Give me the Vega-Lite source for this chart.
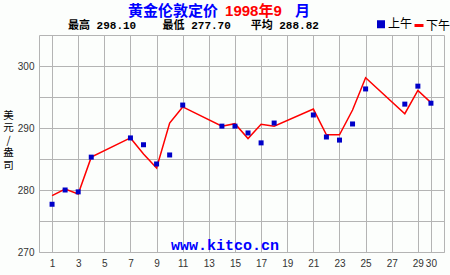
{
  "$schema": "https://vega.github.io/schema/vega-lite/v6.json",
  "width": 405,
  "height": 217,
  "autosize": "none",
  "padding": {"left": 39, "top": 35, "right": 6, "bottom": 23},
  "background": "#FCFEFC",
  "config": {
    "view": {"stroke": "#B4B4B4", "strokeWidth": 1},
    "axis": {"gridColor": "#B4B4B4", "gridWidth": 1, "gridOpacity": 1, "domain": false, "ticks": false, "labelFont": "Liberation Sans", "labelFontSize": 10, "labelColor": "#333333"},
    "axisX": {"labelFlush": false, "labelBound": false, "labelOverlap": false, "labelPadding": 6},
    "axisY": {"labelOverlap": false, "labelPadding": 5}
  },
  "data": {
    "values": [
      {"day": 1, "session": "上午", "price": 277.7},
      {"day": 2, "session": "上午", "price": 280.0},
      {"day": 3, "session": "上午", "price": 279.7},
      {"day": 4, "session": "上午", "price": 285.3},
      {"day": 7, "session": "上午", "price": 288.4},
      {"day": 8, "session": "上午", "price": 287.3},
      {"day": 9, "session": "上午", "price": 284.2},
      {"day": 10, "session": "上午", "price": 285.65},
      {"day": 11, "session": "上午", "price": 293.7},
      {"day": 14, "session": "上午", "price": 290.3},
      {"day": 15, "session": "上午", "price": 290.3},
      {"day": 16, "session": "上午", "price": 289.2},
      {"day": 17, "session": "上午", "price": 287.6},
      {"day": 18, "session": "上午", "price": 290.8},
      {"day": 21, "session": "上午", "price": 292.1},
      {"day": 22, "session": "上午", "price": 288.55},
      {"day": 23, "session": "上午", "price": 288.05},
      {"day": 24, "session": "上午", "price": 290.65},
      {"day": 25, "session": "上午", "price": 296.3},
      {"day": 28, "session": "上午", "price": 293.85},
      {"day": 29, "session": "上午", "price": 296.75},
      {"day": 30, "session": "上午", "price": 294.0},
      {"day": 1, "session": "下午", "price": 279.1},
      {"day": 2, "session": "下午", "price": 280.15},
      {"day": 3, "session": "下午", "price": 279.35},
      {"day": 4, "session": "下午", "price": 285.3},
      {"day": 7, "session": "下午", "price": 288.4},
      {"day": 8, "session": "下午", "price": 285.8},
      {"day": 9, "session": "下午", "price": 283.55},
      {"day": 10, "session": "下午", "price": 290.8},
      {"day": 11, "session": "下午", "price": 293.4},
      {"day": 14, "session": "下午", "price": 290.3},
      {"day": 15, "session": "下午", "price": 290.7},
      {"day": 16, "session": "下午", "price": 288.3},
      {"day": 17, "session": "下午", "price": 290.6},
      {"day": 18, "session": "下午", "price": 290.3},
      {"day": 21, "session": "下午", "price": 293.05},
      {"day": 22, "session": "下午", "price": 288.9},
      {"day": 23, "session": "下午", "price": 288.9},
      {"day": 24, "session": "下午", "price": 292.9},
      {"day": 25, "session": "下午", "price": 298.1},
      {"day": 28, "session": "下午", "price": 292.3},
      {"day": 29, "session": "下午", "price": 296.05},
      {"day": 30, "session": "下午", "price": 294.1}
    ]
  },
  "layer": [
    {
      "transform": [{"filter": "datum.session === '下午'"}],
      "mark": {"type": "line", "strokeWidth": 1.5},
      "encoding": {
        "x": {"field": "day", "type": "quantitative", "scale": {"domain": [0, 31], "nice": false, "zero": false},
          "axis": {"title": null, "values": [1, 3, 5, 7, 9, 11, 13, 15, 17, 19, 21, 23, 25, 27, 29, 30], "tickCount": 50, "format": "d", "grid": true}},
        "y": {"field": "price", "type": "quantitative", "scale": {"domain": [270, 305], "nice": false, "zero": false},
          "axis": {"values": [270, 275, 280, 285, 290, 295, 300], "tickCount": 50, "format": "d", "grid": true, "labelExpr": "datum.value % 10 === 0 ? datum.label : ''",
            "title": ["美", "元", "/", "盎", "司"], "titleAngle": 0, "titleX": -31, "titleY": 75, "titleBaseline": "top", "titleAlign": "center",
            "titleFont": "Noto Sans CJK SC", "titleFontSize": 10.5, "titleFontWeight": "normal", "titleLineHeight": 12.5, "titleColor": "#000000"}},
        "color": {"field": "session", "type": "nominal", "scale": {"domain": ["上午", "下午"], "range": ["#0000C8", "#FF0000"]},
          "legend": {"orient": "none", "legendX": 336, "legendY": -17, "direction": "horizontal", "title": null,
            "labelFont": "Noto Sans CJK SC", "labelFontSize": 12, "labelColor": "#000000", "labelOffset": 1, "columnPadding": -15, "symbolSize": 25,
            "encode": {"symbols": {"update": {
              "shape": {"signal": "datum.value === '上午' ? 'square' : 'stroke'"},
              "size": {"signal": "datum.value === '上午' ? 25 : 81"},
              "strokeWidth": {"value": 3},
              "fill": {"signal": "datum.value === '上午' ? '#0000C8' : 'transparent'"},
              "stroke": {"signal": "datum.value === '上午' ? 'transparent' : '#FF0000'"},
              "opacity": {"value": 1}
            }}}}}
      }
    },
    {
      "transform": [{"filter": "datum.session === '上午'"}],
      "mark": {"type": "square", "size": 25, "opacity": 1},
      "encoding": {
        "x": {"field": "day", "type": "quantitative"},
        "y": {"field": "price", "type": "quantitative"},
        "color": {"field": "session", "type": "nominal"}
      }
    },
    {
      "data": {"values": [{"t": "黄金伦敦定价"}]},
      "mark": {"type": "text", "align": "right", "baseline": "middle", "font": "Noto Sans CJK SC", "fontSize": 15, "fontWeight": "bold", "color": "#0000FF"},
      "encoding": {"x": {"datum": 13.7}, "y": {"datum": 308.9}, "text": {"field": "t"}}
    },
    {
      "data": {"values": [{"t": "1998年9"}]},
      "mark": {"type": "text", "align": "left", "baseline": "middle", "font": "Liberation Sans, Noto Sans CJK SC", "fontSize": 15, "fontWeight": "bold", "color": "#FF0000"},
      "encoding": {"x": {"datum": 14.24}, "y": {"datum": 308.9}, "text": {"field": "t"}}
    },
    {
      "data": {"values": [{"t": "月"}]},
      "mark": {"type": "text", "align": "left", "baseline": "middle", "font": "Noto Sans CJK SC", "fontSize": 15, "fontWeight": "bold", "color": "#0000FF"},
      "encoding": {"x": {"datum": 19.59}, "y": {"datum": 308.9}, "text": {"field": "t"}}
    },
    {
      "data": {"values": [{"t": "最高\u00a0298.10\u00a0\u00a0\u00a0\u00a0最低\u00a0277.70\u00a0\u00a0\u00a0平均\u00a0288.82"}]},
      "mark": {"type": "text", "align": "left", "baseline": "middle", "font": "Liberation Mono, Noto Sans CJK SC", "fontSize": 11, "fontWeight": "bold", "color": "#000000"},
      "encoding": {"x": {"datum": 2.22}, "y": {"datum": 306.45}, "text": {"field": "t"}}
    },
    {
      "data": {"values": [{"t": "www.kitco.cn"}]},
      "mark": {"type": "text", "align": "center", "baseline": "middle", "font": "Liberation Mono", "fontSize": 15, "fontWeight": "bold", "color": "#0000FF"},
      "encoding": {"x": {"datum": 14.24}, "y": {"datum": 271.2}, "text": {"field": "t"}}
    }
  ]
}
